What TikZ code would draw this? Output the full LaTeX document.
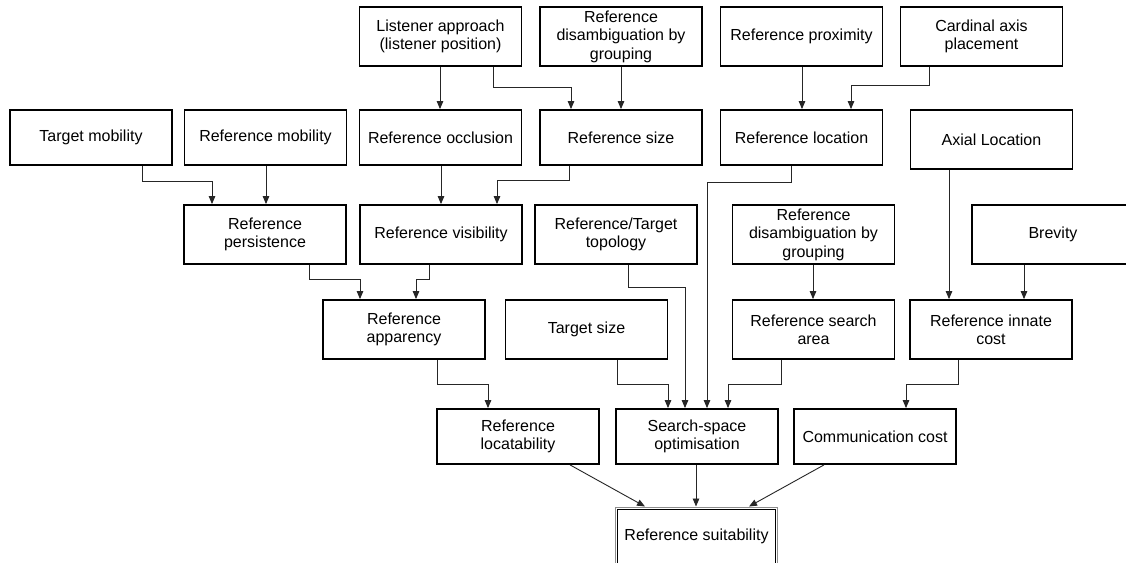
\documentclass[tikz,border=0pt]{standalone}
\usepackage{fontspec}
\setmainfont{Liberation Sans}
\usetikzlibrary{arrows.meta}

\tikzset{
  box/.style={draw=black, line width=1.8pt, fill=white, rectangle,
    minimum width=162pt, minimum height=59pt, inner sep=0pt,
    align=center, font=\fontsize{16}{18.4}\selectfont},
  lowbox/.style={box, minimum height=55pt},
  link/.style={draw=black!85, line width=0.9pt, line join=miter,
    -{Triangle[length=8pt,width=6.5pt]}},
}

\begin{document}
\begin{tikzpicture}[x=1pt,y=-1pt]
\clip (0,0) rectangle (1126,562);
\fill[white] (0,0) rectangle (1126,562);

% top row
\node[box] (lis)  at (440.5,36.5) {Listener approach\\(listener position)};
\node[box] (dis1) at (621,36.5)   {Reference\\disambiguation by\\grouping};
\node[box] (prox) at (801.5,36.5) {Reference proximity};
\node[box] (card) at (981.5,36.5) {Cardinal axis\\placement};

% second row
\node[lowbox] (tmob) at (91,137.5)    {Target mobility};
\node[lowbox] (rmob) at (265.5,137.5) {Reference mobility};
\node[lowbox] (occ)  at (440.5,137.5) {Reference occlusion};
\node[lowbox] (rsz)  at (621,137.5)   {Reference size};
\node[lowbox] (loc)  at (801.5,137.5) {Reference location};
\node[box]    (axl)  at (991.5,139.5) {Axial Location};

% third row
\node[box] (pers) at (265,234.5)   {Reference\\persistence};
\node[box] (vis)  at (441,234.5)   {Reference visibility};
\node[box] (topo) at (616,234.5)   {Reference/Target\\topology};
\node[box] (dis2) at (813.5,234.5) {Reference\\disambiguation by\\grouping};
\node[box] (brev) at (1053,234.5)  {Brevity};

% fourth row
\node[box] (app)    at (404,329.5)   {Reference\\apparency};
\node[box] (tsz)    at (586.5,329.5) {Target size};
\node[box] (sarea)  at (813.5,329.5) {Reference search\\area};
\node[box] (innate) at (991,329.5)   {Reference innate\\cost};

% fifth row
\node[lowbox] (locat) at (518,436.5) {Reference\\locatability};
\node[lowbox] (ssopt) at (697,436.5) {Search-space\\optimisation};
\node[lowbox] (comm)  at (875,436.5) {Communication cost};

% goal node with double frame
\node[box, draw=black!45, line width=1pt] (suit) at (696.5,536.5) {Reference suitability};
\draw[line width=1pt] ([shift={(2.5pt,-2.5pt)}]suit.north west)
  rectangle ([shift={(-2.5pt,2.5pt)}]suit.south east);

% top row to second row
\draw[link] (lis.south -| 440,0) -- (occ.north -| 440,0);
\draw[link] (lis.south -| 493,0) -- (493,87) -| (rsz.north -| 571,0);
\draw[link] (dis1.south -| 621,0) -- (rsz.north -| 621,0);
\draw[link] (prox.south -| 802,0) -- (loc.north -| 802,0);
\draw[link] (card.south -| 929,0) -- (929,85) -| (loc.north -| 851,0);

% second row to third row
\draw[link] (tmob.south -| 142,0) -- (142,181) -| (pers.north -| 212,0);
\draw[link] (rmob.south -| 266,0) -- (pers.north -| 266,0);
\draw[link] (occ.south -| 441,0) -- (vis.north -| 441,0);
\draw[link] (rsz.south -| 569,0) -- (569,180) -| (vis.north -| 497,0);

% third row to fourth row
\draw[link] (pers.south -| 309,0) -- (309,279) -| (app.north -| 360,0);
\draw[link] (vis.south -| 429,0) -- (429,279) -| (app.north -| 416,0);
\draw[link] (dis2.south -| 813,0) -- (sarea.north -| 813,0);
\draw[link] (axl.south -| 949,0) -- (innate.north -| 949,0);
\draw[link] (brev.south -| 1024,0) -- (innate.north -| 1024,0);

% into the fifth row
\draw[link] (app.south -| 437,0) -- (437,384) -| (locat.north -| 488,0);
\draw[link] (tsz.south -| 617,0) -- (617,384) -| (ssopt.north -| 668,0);
\draw[link] (topo.south -| 628,0) -- (628,287) -| (ssopt.north -| 685,0);
\draw[link] (loc.south -| 791,0) -- (791,182) -| (ssopt.north -| 707,0);
\draw[link] (sarea.south -| 781,0) -- (781,384) -| (ssopt.north -| 728,0);
\draw[link] (innate.south -| 958,0) -- (958,384) -| (comm.north -| 906,0);

% into the goal
\draw[link] (locat.south -| 570,0) -- (suit.north -| 645,0);
\draw[link] (ssopt.south -| 696,0) -- (suit.north -| 696,0);
\draw[link] (comm.south -| 824,0) -- (suit.north -| 749,0);
\end{tikzpicture}
\end{document}
